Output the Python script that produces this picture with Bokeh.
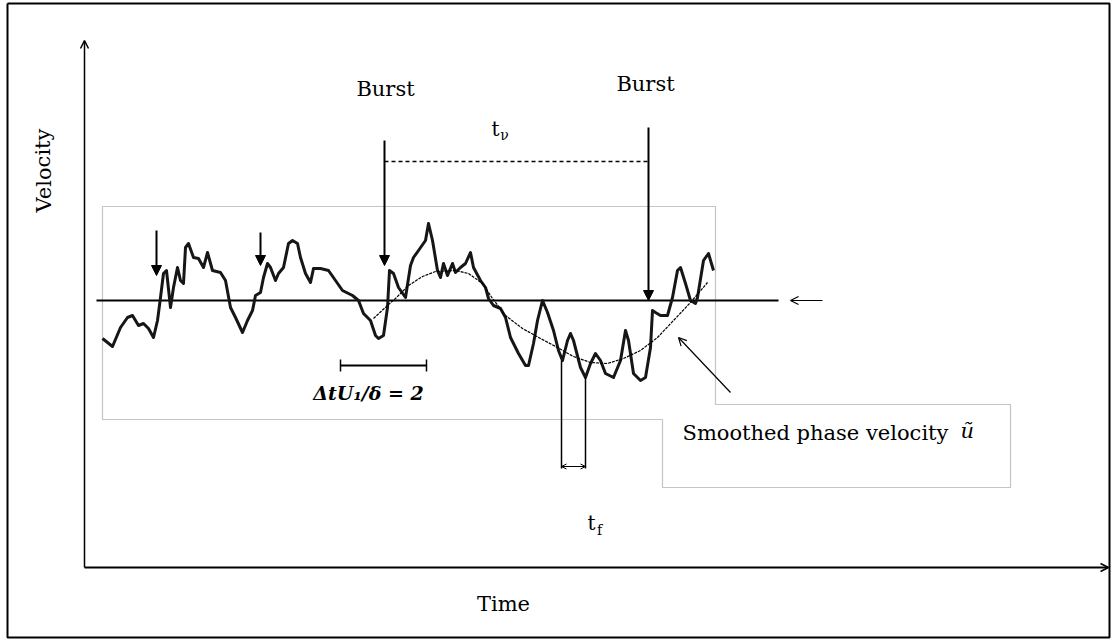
from bokeh.plotting import figure
from bokeh.models import Range1d, Arrow, NormalHead, OpenHead
from bokeh.core.properties import value
from bokeh.embed import file_html
from bokeh.resources import INLINE

# Instantaneous streamwise velocity trace (time, velocity), arbitrary units
time = [18, 28, 36, 43, 48, 54, 59, 64, 69, 73, 76, 79, 82, 86, 89, 93, 96, 99, 101, 104,
        109, 114, 119, 123, 128, 136, 141, 146, 151, 158, 163, 168, 171, 176, 179, 183, 186,
        191, 194, 199, 204, 208, 213, 216, 221, 226, 229, 236, 244, 251, 258, 268, 274, 279,
        286, 291, 294, 299, 303, 305, 309, 314, 321, 326, 329, 334, 341, 344, 348, 353, 356,
        359, 363, 368, 371, 376, 381, 386, 389, 396, 401, 404, 409, 416, 421, 426, 434, 441,
        444, 449, 453, 458, 463, 469, 474, 478, 483, 486, 489, 496, 501, 506, 511, 516, 521,
        529, 536, 541, 544, 549, 556, 561, 566, 568, 571, 576, 583, 588, 593, 596, 601, 606,
        611, 613, 619, 624, 629]
velocity = [229, 221, 240, 250, 252, 242, 244, 239, 230, 247, 270, 294, 297, 260, 280, 300,
            287, 284, 320, 324, 310, 309, 300, 315, 297, 295, 287, 260, 250, 235, 247, 257,
            272, 275, 290, 304, 300, 287, 294, 300, 324, 327, 324, 310, 294, 285, 299, 299,
            297, 287, 277, 272, 267, 254, 247, 232, 229, 232, 260, 297, 294, 280, 270, 302,
            310, 317, 327, 344, 327, 297, 290, 304, 292, 304, 295, 300, 304, 315, 300, 287,
            280, 269, 262, 259, 250, 230, 214, 202, 202, 224, 247, 267, 255, 237, 217, 207,
            227, 234, 227, 200, 190, 204, 214, 207, 194, 190, 207, 237, 227, 194, 187, 190,
            220, 257, 255, 252, 252, 270, 297, 300, 284, 267, 264, 270, 307, 314, 297]

# Smoothed phase velocity
smooth_time = [289, 304, 311, 324, 338, 351, 371, 384, 398, 408, 421, 438, 456, 473, 489,
               506, 523, 539, 556, 573, 589, 606, 623]
smooth_velocity = [249, 263, 269, 282, 291, 296, 297, 294, 284, 269, 252, 239, 229, 220, 211,
                   205, 204, 209, 217, 230, 247, 265, 285]

mean_velocity = 267
mean_span = [12, 694]

# Burst events: time, tip of the marker arrow
burst_time = [72, 176, 300, 564]
burst_tip = [292, 302, 302, 267]
burst_top = [337, 335, 427, 440]

# Scale bar  Δt U1/δ = 2
scale_bar = [256, 342]
scale_bar_level = 202

# Fast time scale t_f between two troughs
tf_time = [477, 501]
tf_top = [207, 190]
tf_level = 99

# Velocity axis extent and time axis extent
axis_time_max = 1024
axis_velocity_max = 527

FONT = value("DejaVu Serif")

p = figure(width=1116, height=641, x_range=Range1d(-84, 1032), y_range=Range1d(-74, 567),
           min_border=0, toolbar_location=None, output_backend="svg",
           x_axis_type=None, y_axis_type=None, background_fill_color="white")
p.grid.visible = False
p.outline_line_color = None

# outer frame
p.line(x=[-77, 1025, 1025, -77, -77], y=[564, 564, -70, -70, 564], line_color="black", line_width=2)

# light grey outline around the trace and the caption box
p.line(x=[18, 631, 631, 926, 926, 578, 578, 18, 18],
       y=[361, 361, 163, 163, 80, 80, 148, 148, 361],
       line_color="#c4c4c4", line_width=1.2)

# axes
p.add_layout(Arrow(end=OpenHead(size=8, line_width=1.5), x_start=0, y_start=0, x_end=0,
                   y_end=axis_velocity_max, line_width=1.5))
p.add_layout(Arrow(end=OpenHead(size=8, line_width=1.5), x_start=0, y_start=0,
                   x_end=axis_time_max, y_end=0, line_width=2))

# mean velocity line and its pointer
p.line(x=mean_span, y=[mean_velocity] * 2, line_color="black", line_width=2)
p.add_layout(Arrow(end=OpenHead(size=8, line_width=1.2), x_start=738, y_start=mean_velocity,
                   x_end=706, y_end=mean_velocity, line_width=1.2))

# velocity trace and its smoothed phase
p.line(x=time, y=velocity, line_color="#161616", line_width=3, line_join="round")
p.line(x=smooth_time, y=smooth_velocity, line_color="black", line_width=1.2, line_dash="3 1")

# burst markers
for bt, tip, top in zip(burst_time, burst_tip, burst_top):
    p.add_layout(Arrow(end=NormalHead(size=10, fill_color="black", line_color="black"),
                       x_start=bt, y_start=top, x_end=bt, y_end=tip, line_width=2))

# t_nu interval between the two bursts
p.line(x=[burst_time[2], burst_time[3]], y=[406, 406], line_color="black", line_width=1.5,
       line_dash="4 3")

# Δt U1/δ scale bar
p.line(x=scale_bar, y=[scale_bar_level] * 2, line_color="black", line_width=2)
for sx in scale_bar:
    p.line(x=[sx, sx], y=[scale_bar_level - 6, scale_bar_level + 6], line_color="black",
           line_width=1.5)

# t_f markers
for tt, top in zip(tf_time, tf_top):
    p.line(x=[tt, tt], y=[top, tf_level], line_color="black", line_width=1.5)
p.add_layout(Arrow(start=OpenHead(size=5, line_width=1), end=OpenHead(size=5, line_width=1),
                   x_start=tf_time[0], y_start=tf_level + 2, x_end=tf_time[1],
                   y_end=tf_level + 2, line_width=1))

# pointer to the smoothed curve
p.add_layout(Arrow(end=OpenHead(size=8, line_width=1.2), x_start=646, y_start=175,
                   x_end=594, y_end=230, line_width=1.2))

# labels
def label(x, y, s, size="20px", style="normal", angle=0.0, align="center"):
    p.text(x=[x], y=[y], text=[s], text_font=FONT, text_font_size=size,
           text_font_style=style, text_align=align, text_baseline="middle",
           text_color="black", angle=angle)

label(-41, 397, "Velocity", size="21px", angle=1.5708)
label(419, -36, "Time", size="21px")
label(burst_time[2] + 1, 479, "Burst", size="21px")
label(burst_time[3] - 3, 484, "Burst", size="21px")
label(411, 439, "t")
label(420, 433, "ν", size="14px")
label(507, 45, "t")
label(515, 38, "f", size="14px")
label(284, 175, "ΔtU\u2081/δ = 2", size="19px", style="bold italic")
label(598, 135, "Smoothed phase velocity", size="21px", align="left")
label(876, 137, "ũ", size="21px", style="italic", align="left")

open("out.html", "w").write(file_html(p, INLINE))
